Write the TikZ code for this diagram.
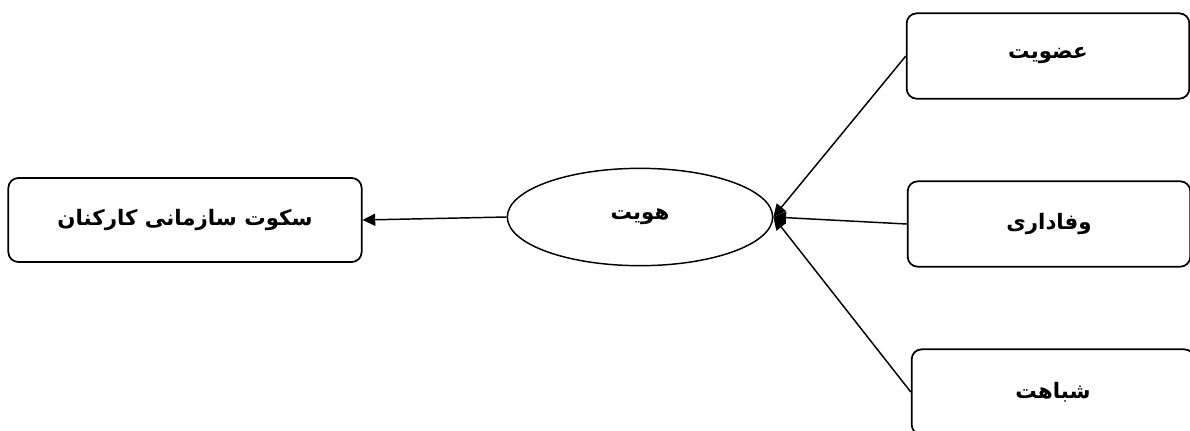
\documentclass[tikz,border=0pt]{standalone}
\usepackage{fontspec}
\newfontfamily\arabicfont[Script=Arabic]{DejaVu Sans}
\TeXXeTstate=1
\usetikzlibrary{
  positioning,
  arrows.meta,
  shapes.geometric
}
\tikzset{
  >=Triangle,
  flowarrow/.style={-{Triangle[length=9.5pt,width=9pt]},line width=1.1pt},
  factor/.style={rectangle,draw,line width=1.3pt,rounded corners=7.5pt,minimum width=212pt,minimum height=64pt,font=\arabicfont\bfseries\fontsize{16}{19}\selectfont},
  outcome/.style={rectangle,draw,line width=1.3pt,rounded corners=7.5pt,minimum width=265pt,minimum height=63pt,font=\arabicfont\bfseries\fontsize{16}{19}\selectfont},
  concept/.style={ellipse,draw,line width=1.1pt,minimum width=199pt,minimum height=73pt,inner sep=0pt,font=\arabicfont\bfseries\fontsize{16}{19}\selectfont}
}

\begin{document}
\begin{tikzpicture}[x=0.75pt, y=-0.75pt]
    \useasboundingbox (0,0) rectangle (1190,430);
    \clip (0,0) rectangle (1190,430);
    \node[outcome] (sokut) at (185,220) {\beginR سکوت سازمانی کارکنان\endR};
    \node[concept] (hoviat) at (640,217) {\beginR هویت\endR};
    \node[factor] (ozviat) at (1048,56) {\beginR عضویت\endR};
    \node[factor] (vafadari) at (1049,224) {\beginR وفاداری\endR};
    \node[factor] (shebahat) at (1053,392) {\beginR شباهت\endR};

    \draw[flowarrow] (hoviat.west) -- (sokut.east);
    \draw[flowarrow] (ozviat.west) -- (hoviat.east);
    \draw[flowarrow] (vafadari.west) -- (hoviat.east);
    \draw[flowarrow] (shebahat.west) -- (hoviat.east);
\end{tikzpicture}
\end{document}
